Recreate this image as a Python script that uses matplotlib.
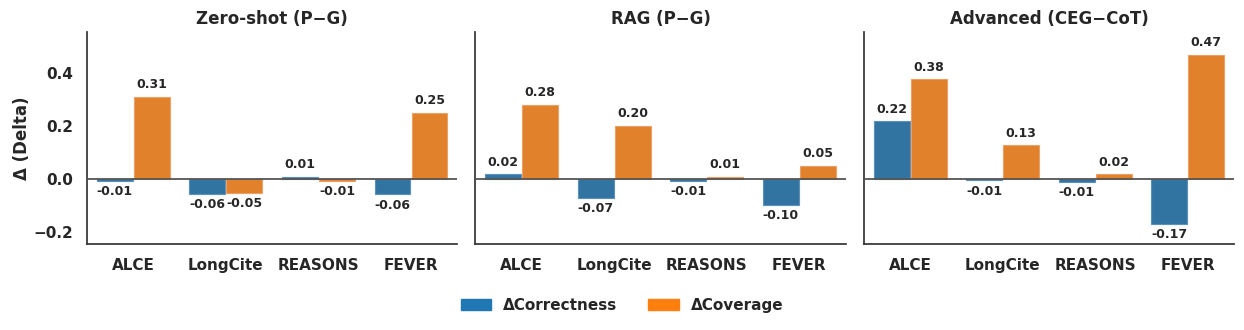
import matplotlib
matplotlib.use("Agg")
import matplotlib.pyplot as plt
from matplotlib.patches import Patch
import numpy as np

datasets = ["ALCE", "LongCite", "REASONS", "FEVER"]
panel_titles = ["Zero-shot (P\u2212G)", "RAG (P\u2212G)", "Advanced (CEG\u2212CoT)"]
series_names = ["\u0394Correctness", "\u0394Coverage"]

zs_correctness = [-0.007, -0.057, 0.009, -0.058]
zs_coverage = [0.31, -0.052, -0.007, 0.25]
rag_correctness = [0.018, -0.07, -0.007, -0.097]
rag_coverage = [0.28, 0.20, 0.009, 0.05]
adv_correctness = [0.218, -0.0051, -0.012, -0.17]
adv_coverage = [0.377, 0.128, 0.017, 0.47]

panels = [(zs_correctness, zs_coverage), (rag_correctness, rag_coverage), (adv_correctness, adv_coverage)]

bar_colors = ["#3274a1", "#e1812c"]
edge_colors = ["#5a90bd", "#eba066"]
legend_colors = ["#1f77b4", "#ff7f0e"]
text_color = "#262626"

plt.rcParams["font.family"] = ["DejaVu Sans"]
plt.rcParams["font.weight"] = "bold"

fig, axes = plt.subplots(1, 3, figsize=(12.44, 3.3), dpi=100, sharey=True)
fig.subplots_adjust(left=0.070, right=0.992, top=0.903, bottom=0.261, wspace=0.049)

x = np.arange(len(datasets))
w = 0.4
for i, ax in enumerate(axes):
    corr, cov = panels[i]
    for j, vals in enumerate([corr, cov]):
        pos = x + (j - 0.5) * w
        ax.bar(pos, vals, width=w * 0.97, color=bar_colors[j], edgecolor=edge_colors[j], linewidth=0.8,
               zorder=3)
        for px, v in zip(pos, vals):
            if v >= 0:
                ax.annotate(f"{v:.2f}", (px, v), xytext=(0, 4), textcoords="offset points",
                            ha="center", va="bottom", fontsize=9, fontweight="bold", color=text_color)
            else:
                ax.annotate(f"{v:.2f}", (px, v), xytext=(0, -3), textcoords="offset points",
                            ha="center", va="top", fontsize=9, fontweight="bold", color=text_color)
    ax.axhline(0, color="#555555", linewidth=1.3, zorder=5)
    ax.set_title(panel_titles[i], fontsize=12, fontweight="bold", color=text_color)
    ax.set_xticks(x)
    ax.set_xticklabels(datasets, fontsize=11, fontweight="bold", color=text_color)
    ax.set_xlim(-0.5, 3.5)
    ax.set_ylim(-0.245, 0.555)
    ax.tick_params(axis="x", length=0, pad=10)
    ax.tick_params(axis="y", length=0, pad=10)
    for s in ["top", "right"]:
        ax.spines[s].set_visible(False)
    for s in ["left", "bottom"]:
        ax.spines[s].set_color("#333333")
        ax.spines[s].set_linewidth(1.25)

axes[0].set_yticks([-0.2, 0.0, 0.2, 0.4])
for lab in axes[0].get_yticklabels():
    lab.set_fontsize(11)
    lab.set_fontweight("bold")
    lab.set_color(text_color)
axes[0].set_ylabel("\u0394 (Delta)", fontsize=12, fontweight="bold", color=text_color, labelpad=2)

handles = [Patch(color=legend_colors[k], label=series_names[k]) for k in range(2)]
leg = fig.legend(handles=handles, loc="lower center", ncol=2, frameon=False,
                 bbox_to_anchor=(0.5, 0.01), prop={"weight": "bold", "size": 11},
                 columnspacing=2.0, handlelength=2.0)
for t in leg.get_texts():
    t.set_color(text_color)

fig.savefig("out.png", dpi=100)
